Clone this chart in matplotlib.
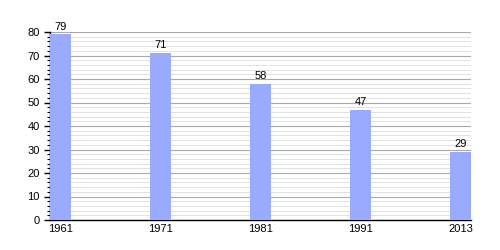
import matplotlib
matplotlib.use('Agg')
import matplotlib.pyplot as plt
import numpy as np

plt.rcParams['font.family'] = ['Liberation Sans', 'DejaVu Sans']

# data
years = ['1961', '1971', '1981', '1991', '2013']
values = [79, 71, 58, 47, 29]

fig = plt.figure(figsize=(5, 2.5), dpi=100)
ax = fig.add_axes([0.1, 0.12, 0.842, 0.752])

x = np.arange(len(years))
w = 0.21
bars = ax.bar(x, values, width=w, align='edge', color='#99aaff', zorder=3)

for b, v in zip(bars, values):
    ax.text(b.get_x() + w / 2, v + 1.2, str(v), ha='center', va='bottom', fontsize=8)

ax.set_xlim(0, x[-1] + w)
ax.set_ylim(0, 80)
ax.set_xticks(x + w / 2)
ax.set_xticklabels(years, fontsize=8)
ax.set_yticks(range(0, 81, 10))
ax.set_yticks(range(0, 81, 2), minor=True)
ax.tick_params(axis='y', labelsize=8, length=4, width=1)
ax.tick_params(axis='y', which='minor', length=2, width=0.8)
ax.tick_params(axis='x', length=0, pad=3)

ax.grid(axis='y', which='major', color='#aaaaaa', linewidth=0.8, zorder=0)
ax.grid(axis='y', which='minor', color='#dddddd', linewidth=0.6, zorder=0)

for s in ['top', 'right']:
    ax.spines[s].set_visible(False)
ax.spines['left'].set_linewidth(1)
ax.spines['bottom'].set_linewidth(1)

fig.savefig('out.png', dpi=100)
